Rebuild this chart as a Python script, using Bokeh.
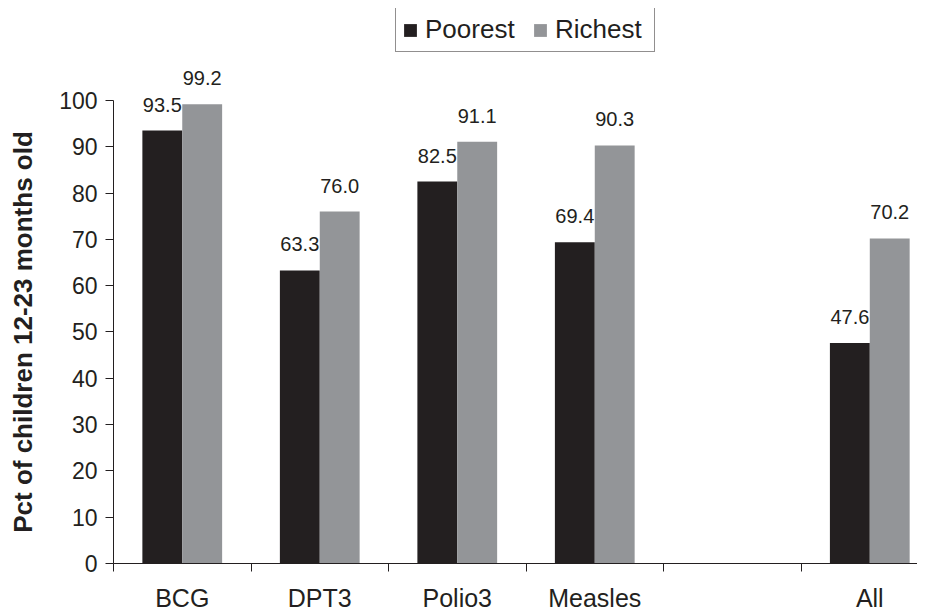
from bokeh.plotting import figure
from bokeh.layouts import row
from bokeh.models import ColumnDataSource, FixedTicker, Range1d, Legend, LegendItem
from bokeh.core.properties import value
from bokeh.embed import file_html
from bokeh.resources import INLINE

categories = ["BCG", "DPT3", "Polio3", "Measles", "", "All"]
poorest = [93.5, 63.3, 82.5, 69.4, None, 47.6]
richest = [99.2, 76.0, 91.1, 90.3, None, 70.2]
series_names = ["Poorest", "Richest"]
y_ticks = list(range(0, 101, 10))
y_title = "Pct of children 12-23 months old"

FONT = "Liberation Sans"
DARK = "#231f20"
GRAY = "#939598"
BAR_W = 0.29
TITLE_W = 45
BOTTOM = 43

pos = list(range(1, len(categories) + 1))
yr = Range1d(0, 119.87)

p = figure(frame_width=804, frame_height=555, output_backend="svg",
           toolbar_location=None, x_range=Range1d(0.5, 0.5 + 5.847),
           y_range=yr, min_border_left=113 - TITLE_W,
           min_border_right=0, min_border_top=8, min_border_bottom=BOTTOM)
p.outline_line_color = None
p.xgrid.visible = False
p.ygrid.visible = False
p.background_fill_color = "white"
p.border_fill_color = "white"

renderers = []
for k, (vals, color) in enumerate([(poorest, DARK), (richest, GRAY)]):
    off = -BAR_W / 2 if k == 0 else BAR_W / 2
    xs = [x + off for x, v in zip(pos, vals) if v is not None]
    ys = [v for v in vals if v is not None]
    src = ColumnDataSource(dict(x=xs, top=ys, lab=["%.1f" % v for v in ys]))
    r = p.vbar(x="x", top="top", width=BAR_W, bottom=0, source=src,
               fill_color=color, line_color=None)
    renderers.append(r)
    p.text(x="x", y="top", text="lab", source=src, text_align="center",
           text_baseline="alphabetic", y_offset=-26, text_font_size="20px",
           text_font=value(FONT), text_color=DARK)

legend = Legend(items=[LegendItem(label=series_names[0], renderers=[renderers[0]]),
                       LegendItem(label=series_names[1], renderers=[renderers[1]])],
                location=(282, 511), orientation="horizontal",
                label_text_font=FONT, label_text_font_size="26px",
                label_text_color=DARK, glyph_width=16, glyph_height=16,
                label_standoff=7, label_width=93, spacing=14, padding=6,
                border_line_color=DARK, border_line_width=1,
                background_fill_color="white", background_fill_alpha=1)
p.add_layout(legend, "center")

# y axis
ya = p.yaxis[0]
ya.ticker = FixedTicker(ticks=y_ticks)
ya.bounds = (0, 100)
ya.major_tick_out = 8
ya.major_tick_in = 0
ya.minor_tick_out = 0
ya.minor_tick_in = 0
ya.major_label_standoff = 8
ya.major_label_text_font = FONT
ya.major_label_text_font_size = "23px"
ya.major_label_text_color = DARK
ya.axis_line_color = DARK
ya.major_tick_line_color = DARK

# x axis
xa = p.xaxis[0]
xa.ticker = FixedTicker(ticks=pos, minor_ticks=[x - 0.5 for x in pos])
xa.major_label_overrides = {x: c for x, c in zip(pos, categories)}
xa.major_tick_out = 0
xa.major_tick_in = 0
xa.minor_tick_out = 8
xa.minor_tick_in = 0
xa.minor_tick_line_color = DARK
xa.axis_line_color = DARK
xa.major_label_standoff = 12
xa.major_label_text_font = FONT
xa.major_label_text_font_size = "25px"
xa.major_label_text_color = DARK

# y-axis title panel (shares the y range so the title centres on 0..100)
pt = figure(frame_width=TITLE_W, frame_height=555, output_backend="svg",
            toolbar_location=None, x_range=Range1d(0, 1), y_range=yr,
            min_border_left=0, min_border_right=0, min_border_top=8,
            min_border_bottom=BOTTOM)
pt.axis.visible = False
pt.grid.visible = False
pt.outline_line_color = None
pt.border_fill_color = "white"
ya_mid = (y_ticks[0] + y_ticks[-1]) / 2
pt.text(x=[0.5], y=[ya_mid], text=[y_title], angle=90, angle_units="deg",
        text_align="center", text_baseline="middle", text_font=value(FONT),
        text_font_style="bold", text_font_size="26px", text_color=DARK)

layout = row(pt, p, spacing=0)
open("out.html", "w").write(file_html(layout, INLINE))
